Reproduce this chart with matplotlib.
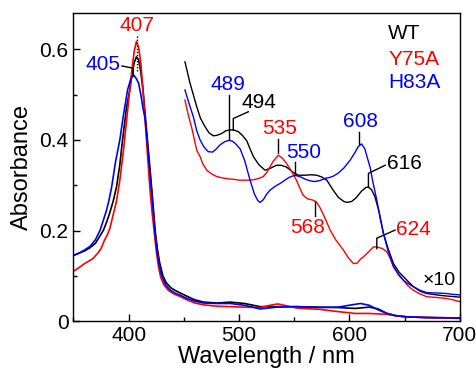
import matplotlib
matplotlib.use('Agg')
import matplotlib.pyplot as plt
from matplotlib.ticker import MultipleLocator

plt.rcParams['font.family'] = ['Liberation Sans', 'DejaVu Sans']

# main spectra (full scale)
wt_wl = [350, 355, 360, 365, 370, 374, 377, 380, 383, 386, 389, 392, 394, 396, 398, 401, 403, 405, 407,
         409, 411, 413, 415, 417, 419, 421, 423, 424, 426, 428, 431, 434, 438, 442, 446, 452, 460, 468,
         480, 492, 505, 519, 535, 552, 573, 590, 605, 618, 626, 634, 642, 652, 670, 700]
wt_abs = [0.145, 0.150, 0.155, 0.162, 0.172, 0.188, 0.200, 0.218, 0.240, 0.265, 0.296, 0.345, 0.390, 0.430,
          0.470, 0.510, 0.545, 0.570, 0.583, 0.577, 0.550, 0.510, 0.455, 0.400, 0.345, 0.289, 0.230, 0.200,
          0.160, 0.130, 0.100, 0.085, 0.074, 0.068, 0.063, 0.056, 0.047, 0.042, 0.040, 0.042, 0.039, 0.032,
          0.032, 0.032, 0.031, 0.030, 0.028, 0.031, 0.027, 0.017, 0.012, 0.0095, 0.008, 0.007]

h83_wl = [350, 355, 360, 365, 370, 374, 377, 380, 382, 384.6, 388, 392, 395, 399, 402, 404.5, 407, 409,
          411, 413, 415, 417, 419, 421, 423, 424, 426, 428, 430, 433, 437, 442, 446, 452, 460, 468, 480,
          492, 505, 519, 535, 552, 573, 590, 602, 610, 618, 626, 634, 642, 652, 670, 700]
h83_abs = [0.145, 0.150, 0.157, 0.165, 0.180, 0.200, 0.222, 0.245, 0.265, 0.296, 0.350, 0.400, 0.450,
           0.510, 0.535, 0.543, 0.535, 0.525, 0.500, 0.470, 0.445, 0.390, 0.335, 0.280, 0.222, 0.190,
           0.150, 0.120, 0.100, 0.082, 0.070, 0.062, 0.058, 0.051, 0.044, 0.040, 0.039, 0.039, 0.035,
           0.027, 0.031, 0.032, 0.030, 0.031, 0.036, 0.039, 0.035, 0.025, 0.017, 0.012, 0.0095, 0.008, 0.007]

y75_wl = [350, 355, 360, 365, 368, 372, 375, 378, 381, 383, 386, 389, 392, 395, 398, 401, 403, 405, 407,
          409, 411, 413, 415, 417, 419, 421, 423, 425, 427, 429, 432, 436, 441, 446, 452, 460, 468, 480,
          492, 505, 519, 528, 535, 545, 552, 573, 590, 605, 618, 626, 634, 642, 652, 670, 700]
y75_abs = [0.110, 0.118, 0.127, 0.134, 0.139, 0.150, 0.160, 0.178, 0.192, 0.205, 0.235, 0.265, 0.311,
           0.370, 0.440, 0.510, 0.555, 0.595, 0.617, 0.605, 0.570, 0.510, 0.440, 0.370, 0.300, 0.245,
           0.200, 0.155, 0.120, 0.097, 0.080, 0.068, 0.060, 0.055, 0.048, 0.040, 0.036, 0.033, 0.032,
           0.031, 0.030, 0.035, 0.038, 0.033, 0.029, 0.026, 0.021, 0.017, 0.017, 0.016, 0.015, 0.012,
           0.0095, 0.008, 0.006]

# x10 expanded visible region
wt10_wl = [451, 455.6, 461.7, 465, 469.2, 473, 476.7, 480, 484.3, 488, 491.8, 495, 499.4, 503, 507, 510,
           513, 518, 523.6, 528, 534, 538, 543, 548, 553.7, 560, 565, 570.4, 575, 579.5, 585, 590, 595,
           598, 602, 606, 611, 615, 617.2, 620, 623, 627, 630.8, 635, 639.9, 645, 649, 653, 658, 664, 670,
           676, 682, 690, 700]
wt10_abs = [0.572, 0.525, 0.473, 0.448, 0.429, 0.415, 0.409, 0.410, 0.414, 0.420, 0.422, 0.422, 0.418,
            0.410, 0.398, 0.380, 0.363, 0.345, 0.333, 0.337, 0.344, 0.344, 0.340, 0.330, 0.322, 0.322,
            0.323, 0.322, 0.318, 0.311, 0.290, 0.273, 0.264, 0.262, 0.264, 0.272, 0.287, 0.295, 0.296,
            0.290, 0.275, 0.240, 0.194, 0.160, 0.127, 0.108, 0.098, 0.088, 0.076, 0.066, 0.061, 0.059,
            0.057, 0.055, 0.053]

h83_10_wl = [451, 455, 458.6, 461.7, 464.7, 468, 472, 476, 479, 482.8, 487, 491, 494, 497, 501, 505, 510,
             514, 517, 519, 522, 525, 528, 533, 538, 542, 546, 550.8, 556, 560, 564, 568, 573, 578, 582,
             585.5, 590, 595, 600.6, 605, 608, 611, 614, 616, 618.7, 621, 624.8, 628, 630.8, 635, 640,
             645, 649, 653, 658, 664, 670, 680, 688, 694, 700]
h83_10_abs = [0.510, 0.478, 0.451, 0.420, 0.400, 0.385, 0.374, 0.373, 0.379, 0.389, 0.396, 0.399, 0.397,
              0.391, 0.380, 0.355, 0.311, 0.280, 0.266, 0.262, 0.268, 0.280, 0.289, 0.298, 0.305, 0.312,
              0.318, 0.322, 0.318, 0.313, 0.310, 0.308, 0.310, 0.315, 0.317, 0.320, 0.327, 0.338, 0.355,
              0.372, 0.385, 0.391, 0.380, 0.362, 0.340, 0.310, 0.267, 0.225, 0.193, 0.155, 0.120, 0.102,
              0.090, 0.083, 0.076, 0.068, 0.063, 0.062, 0.061, 0.059, 0.058]

y75_10_wl = [451, 454, 457, 461.7, 464.7, 467, 470.7, 475, 479.8, 485, 490, 495, 501, 506, 510, 515, 519,
             522, 525, 528, 531, 535.6, 539, 543, 547, 552, 555, 558, 562, 567, 570, 573, 577, 582.5, 588,
             594.5, 599, 603.6, 607, 610, 612.7, 617, 621.7, 626, 630, 633.9, 637, 639.9, 645, 649, 653,
             658, 664, 670, 680, 688, 694, 700]
y75_10_abs = [0.488, 0.455, 0.428, 0.377, 0.363, 0.348, 0.333, 0.325, 0.319, 0.316, 0.314, 0.313, 0.311,
              0.311, 0.311, 0.313, 0.316, 0.319, 0.328, 0.340, 0.353, 0.366, 0.360, 0.348, 0.333, 0.311,
              0.294, 0.278, 0.270, 0.267, 0.263, 0.252, 0.232, 0.201, 0.178, 0.157, 0.140, 0.127, 0.128,
              0.137, 0.142, 0.152, 0.164, 0.163, 0.160, 0.153, 0.138, 0.120, 0.100, 0.090, 0.078, 0.068,
              0.060, 0.054, 0.052, 0.050, 0.047, 0.043]

# peak labels: text, colour, text position, leader path
peak_labels = [
    ('407', 'red', (407.3, 0.652), None),
    ('405', 'blue', (377, 0.566), [(394, 0.563), (404.2, 0.558), (404.2, 0.541)]),
    ('489', 'blue', (490, 0.523), [(491.2, 0.499), (491.2, 0.402)]),
    ('494', 'black', (518, 0.483), [(508.4, 0.462), (494.8, 0.447), (494.8, 0.421)]),
    ('535', 'red', (536.3, 0.426), [(535.6, 0.403), (535.6, 0.370)]),
    ('550', 'blue', (558.5, 0.373), [(550.8, 0.352), (550.8, 0.322)]),
    ('608', 'blue', (609.7, 0.440), [(609, 0.418), (609, 0.391)]),
    ('616', 'black', (649.5, 0.347), [(632.4, 0.344), (617.2, 0.326), (617.2, 0.296)]),
    ('568', 'red', (562, 0.206), [(568.9, 0.263), (568.9, 0.232)]),
    ('624', 'red', (657.5, 0.203), [(641.4, 0.201), (624.8, 0.183), (624.8, 0.160)]),
]

fig = plt.figure(figsize=(4.77, 3.7), dpi=100)
ax = fig.add_axes([0.154, 0.132, 0.81, 0.833])

ax.plot(wt_wl, wt_abs, color='black', lw=1.2)
ax.plot(y75_wl, y75_abs, color='red', lw=1.2)
ax.plot(h83_wl, h83_abs, color='blue', lw=1.2)
ax.plot(wt10_wl, wt10_abs, color='black', lw=1.0)
ax.plot(y75_10_wl, y75_10_abs, color='red', lw=1.0)
ax.plot(h83_10_wl, h83_10_abs, color='blue', lw=1.0)

# dotted marker through the Soret maxima
ax.plot([407.3, 407.3], [0.629, 0.55], color='black', lw=1.0, ls=(0, (1, 1.2)))

for txt, col, pos, path in peak_labels:
    ax.text(pos[0], pos[1], txt, color=col, fontsize=15, ha='center', va='center')
    if path:
        ax.plot([p[0] for p in path], [p[1] for p in path], color='black', lw=1.0)

ax.text(681, 0.089, '×10', color='black', fontsize=14, ha='center', va='center')

# sample names
ax.text(635, 0.635, 'WT', color='black', fontsize=15, ha='left', va='center')
ax.text(635, 0.577, 'Y75A', color='red', fontsize=15, ha='left', va='center')
ax.text(635, 0.526, 'H83A', color='blue', fontsize=15, ha='left', va='center')

ax.set_xlim(350, 700)
ax.set_ylim(0, 0.68)
ax.set_xticks([400, 500, 600, 700])
ax.set_yticks([0, 0.2, 0.4, 0.6])
ax.set_yticklabels(['0', '0.2', '0.4', '0.6'])
ax.xaxis.set_minor_locator(MultipleLocator(50))
ax.yaxis.set_minor_locator(MultipleLocator(0.1))
ax.tick_params(which='both', direction='in', labelsize=15, top=False, right=False)
ax.tick_params(which='major', length=5, width=1)
ax.tick_params(which='minor', length=3, width=1)
for s in ax.spines.values():
    s.set_linewidth(1.0)

ax.set_xlabel('Wavelength / nm', fontsize=17, labelpad=1)
ax.set_ylabel('Absorbance', fontsize=17, labelpad=5)

fig.savefig('out.png', dpi=100)
